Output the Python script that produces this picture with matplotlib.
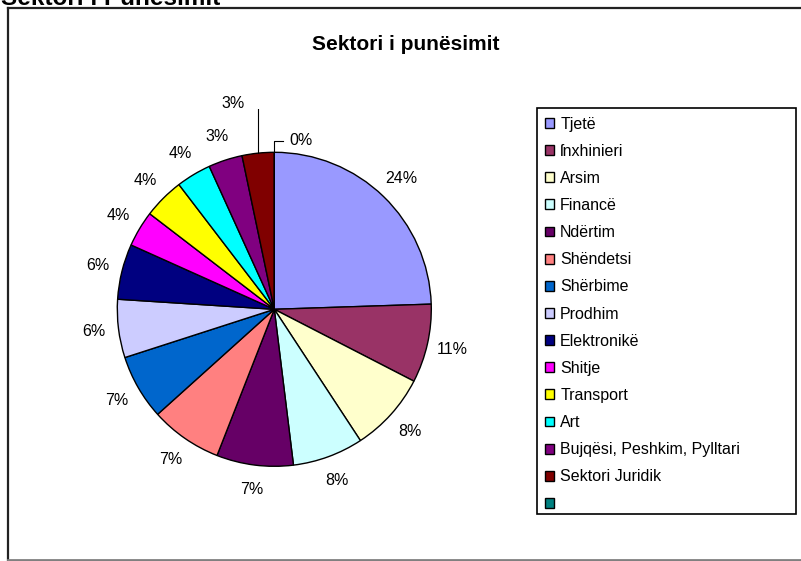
import matplotlib.pyplot as plt
import matplotlib.patches as mpatches
from matplotlib.lines import Line2D
import numpy as np

plt.rcParams['font.family'] = ['Liberation Sans', 'DejaVu Sans']

# sectors, in drawing order (clockwise from 12 o'clock)
sectors = ['Tjetë', 'ſnxhinieri', 'Arsim', 'Financë', 'Ndërtim', 'Shëndetsi',
           'Shërbime', 'Prodhim', 'Elektronikë', 'Shitje', 'Transport', 'Art',
           'Bujqësi, Peshkim, Pylltari', 'Sektori Juridik', '']
shares = [24.5, 8.1, 8.2, 7.3, 7.9, 7.4, 6.7, 6.0, 5.7, 3.7, 4.2, 3.6, 3.5, 3.3, 0.0]
shown = ['24%', '11%', '8%', '8%', '7%', '7%', '7%', '6%', '6%', '4%', '4%', '4%',
         '3%', '3%', '0%']
colors = ['#9999FF', '#993366', '#FFFFCC', '#CCFFFF', '#660066', '#FF8080',
          '#0066CC', '#CCCCFF', '#000080', '#FF00FF', '#FFFF00', '#00FFFF',
          '#800080', '#800000', '#008080']

W, H = 801, 561
fig = plt.figure(figsize=(W / 100, H / 100), dpi=100)

# pie axes: centre (274, 309) px, radius 157 px
cx, cy, rpx, half = 274.3, 309.3, 157.0, 200.0
ax = fig.add_axes([(cx - half) / W, (H - cy - half) / H, 2 * half / W, 2 * half / H])
lim = half / rpx

wedges, texts = ax.pie(shares, labels=shown, colors=colors, startangle=90,
                       counterclock=False, labeldistance=1.16,
                       wedgeprops=dict(edgecolor='black', linewidth=1.0),
                       textprops=dict(fontsize=11.5, color='black'),
                       radius=1.0, center=(0, 0), normalize=True)
ax.set_xlim(-lim, lim)
ax.set_ylim(-lim, lim)
ax.axis('off')
for t in texts:
    t.set_ha('center')
    t.set_va('center')

# small slices at the top get leader lines
def mid_angle(w):
    return np.deg2rad((w.theta1 + w.theta2) / 2)

a = mid_angle(wedges[13])
ex, ey = np.cos(a), np.sin(a)
texts[13].set_position((-0.261, 1.312))
ax.plot([ex, ex, -0.150], [ey, 1.312, 1.312], color='black', lw=0.8)

a = mid_angle(wedges[14])
ex, ey = np.cos(a), np.sin(a)
texts[14].set_position((0.168, 1.072))
ax.plot([ex, ex, 0.058], [ey, 1.072, 1.072], color='black', lw=0.8)

# titles
fig.text(406 / W, 1 - 45 / H, 'Sektori i punësimit', ha='center', va='center',
         fontsize=15, fontweight='bold')
fig.text(1 / W, 1 - 5 / H, 'Sektori i Punësimit', ha='left', va='baseline',
         fontsize=17.5, fontweight='bold')

# outer frame (right side cropped off)
fig.add_artist(Line2D([8 / W, 8 / W], [0, 1 - 8 / H], transform=fig.transFigure,
                      color='#222222', lw=1.6))
fig.add_artist(Line2D([8 / W, 1], [1 - 8 / H, 1 - 8 / H], transform=fig.transFigure,
                      color='#222222', lw=1.6))
fig.add_artist(Line2D([8 / W, 1], [1.5 / H, 1.5 / H], transform=fig.transFigure,
                      color='#808080', lw=2.0))

# legend box
lx0, ly0, lx1, ly1 = 537, 108, 796, 514
fig.add_artist(mpatches.Rectangle((lx0 / W, 1 - ly1 / H), (lx1 - lx0) / W, (ly1 - ly0) / H,
                                  transform=fig.transFigure, facecolor='white',
                                  edgecolor='black', lw=1.2, zorder=1))
leg = fig.legend(wedges, sectors, loc='upper left',
                 bbox_to_anchor=((lx0 + 2) / W, 1 - (ly0 + 3) / H),
                 frameon=False, fontsize=11.5, handlelength=0.58, handleheight=0.58,
                 handletextpad=0.4, labelspacing=0.76, borderaxespad=0,
                 borderpad=0.35)
for h in leg.legend_handles:
    h.set_linewidth(1.0)
    h.set_edgecolor('black')

fig.savefig('out.png', dpi=100)
